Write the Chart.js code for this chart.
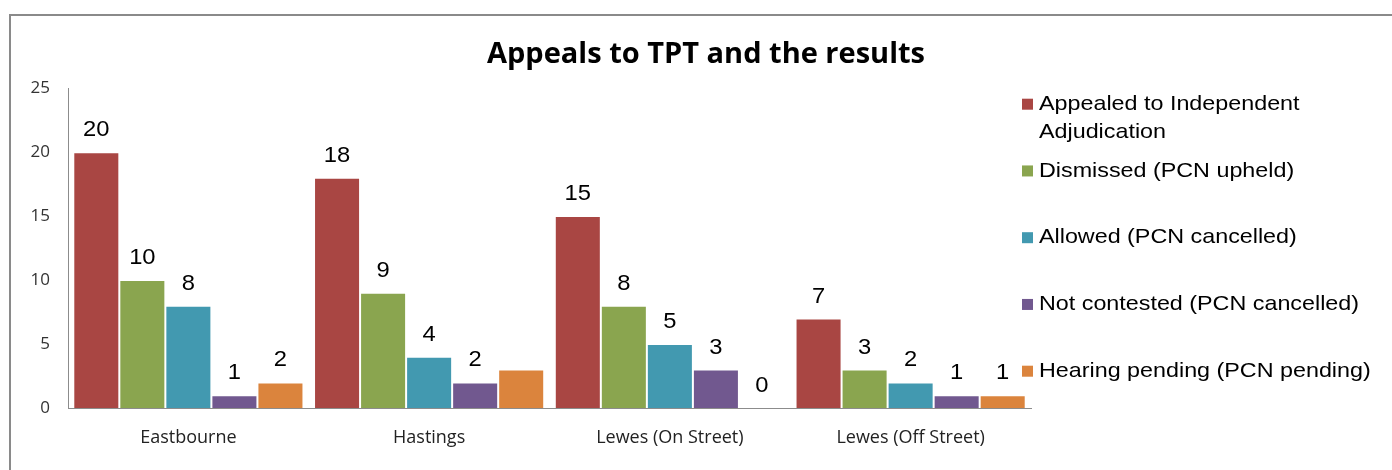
<!DOCTYPE html>
<html><head><meta charset="utf-8">
<script src="https://cdn.jsdelivr.net/npm/chart.js@4"></script>
<style>html,body{margin:0;padding:0;background:#fff}#wrap{width:1392px;height:470px}</style>
</head><body><div id="wrap"><canvas id="c" width="1392" height="470"></canvas></div>
<script>
const categories = ["Eastbourne", "Hastings", "Lewes (On Street)", "Lewes (Off Street)"];
const appealed = [20, 18, 15, 7];
const dismissed = [10, 9, 8, 3];
const allowed = [8, 4, 5, 2];
const notContested = [1, 2, 3, 1];
const hearingPending = [2, 3, 0, 1];
const seriesNames = [
  "Appealed to Independent\nAdjudication",
  "Dismissed (PCN upheld)",
  "Allowed (PCN cancelled)",
  "Not contested (PCN cancelled)",
  "Hearing pending (PCN pending)"
];
const yTicks = [0, 5, 10, 15, 20, 25];
const hiddenDataLabels = [[4, 1]]; // [series index, category index] without a value label
const chartTitle = "Appeals to TPT and the results";

const colors = ["#A94643", "#8AA54F", "#4299B0", "#71588F", "#DB843D"];
const seriesData = [appealed, dismissed, allowed, notContested, hearingPending];

const framePlugin = {
  id: 'frame',
  beforeDraw(chart) {
    const ctx = chart.ctx;
    ctx.save();
    ctx.fillStyle = '#fff';
    ctx.fillRect(0, 0, chart.width, chart.height);
    ctx.strokeStyle = '#8a8a8a';
    ctx.lineWidth = 2;
    ctx.strokeRect(10, 15, 1400, 500);
    ctx.restore();
  }
};

function stretchedText(ctx, text, x, y, sx) {
  ctx.save();
  ctx.translate(x, y);
  ctx.scale(sx, 1);
  ctx.fillText(text, 0, 0);
  ctx.restore();
}

const valueLabelPlugin = {
  id: 'valueLabels',
  afterDatasetsDraw(chart) {
    const ctx = chart.ctx;
    ctx.save();
    ctx.font = '22px "Liberation Sans", Arial, sans-serif';
    ctx.fillStyle = '#000';
    ctx.textAlign = 'center';
    ctx.textBaseline = 'middle';
    chart.data.datasets.forEach((ds, i) => {
      const meta = chart.getDatasetMeta(i);
      meta.data.forEach((bar, j) => {
        if (hiddenDataLabels.some(h => h[0] === i && h[1] === j)) return;
        stretchedText(ctx, String(ds.data[j]), bar.x, bar.y - 22, 1.08);
      });
    });
    ctx.restore();
  }
};

const sideLegendPlugin = {
  id: 'sideLegend',
  afterDraw(chart) {
    const ctx = chart.ctx;
    const area = chart.chartArea;
    ctx.save();
    ctx.font = '21px "Liberation Sans", Arial, sans-serif';
    ctx.textAlign = 'left';
    ctx.textBaseline = 'middle';
    const boxX = area.right - 9;
    const textX = boxX + 17;
    let y = area.top + 16;
    const pitch = 66.75;
    chart.data.datasets.forEach((ds, i) => {
      const lines = ds.label.split('\n');
      ctx.fillStyle = ds.backgroundColor;
      ctx.fillRect(boxX, y - 5.5, 11, 11);
      ctx.fillStyle = '#000';
      lines.forEach((ln, k) => stretchedText(ctx, ln, textX, y + k * 28, 1.11));
      y += pitch;
    });
    ctx.restore();
  }
};

new Chart(document.getElementById('c'), {
  type: 'bar',
  data: {
    labels: categories,
    datasets: seriesNames.map((name, i) => ({
      label: name,
      data: seriesData[i],
      backgroundColor: colors[i],
      borderColor: 'rgba(255,255,255,0.45)',
      borderWidth: 1,
      barPercentage: 1,
      categoryPercentage: 0.956,
      yAxisID: 'y'
    }))
  },
  options: {
    responsive: false,
    animation: false,
    devicePixelRatio: 1,
    layout: { padding: { left: 20, top: 0, right: 0, bottom: 0 } },
    plugins: {
      legend: { display: false },
      tooltip: { enabled: false },
      title: {
        display: true,
        text: chartTitle,
        color: '#000',
        font: { family: '"Open Sans"', size: 29, weight: 'bold', lineHeight: 1.2 },
        padding: { top: 37, bottom: 16.4 }
      }
    },
    scales: {
      x: {
        grid: { display: false, drawTicks: false },
        border: { display: true, color: '#8c8c8c', width: 1 },
        ticks: { color: '#222', font: { family: '"Open Sans"', size: 18 }, padding: 19, maxRotation: 0 },
        afterFit(s) { s.height = 62; }
      },
      y: {
        min: 0, max: 25,
        grid: { display: false, drawTicks: false },
        border: { display: true, color: '#8c8c8c', width: 1 },
        ticks: { color: '#333', font: { family: '"Open Sans"', size: 17 }, padding: 18 },
        afterBuildTicks(s) { s.ticks = yTicks.map(v => ({ value: v })); },
        afterFit(s) { s.width = 48; }
      },
      legendSpace: {
        type: 'linear', axis: 'y', position: 'right',
        grid: { display: false, drawTicks: false },
        border: { display: false },
        ticks: { display: false },
        afterFit(s) { s.width = 361; }
      }
    }
  },
  plugins: [framePlugin, valueLabelPlugin, sideLegendPlugin]
});
</script>
</body></html>
